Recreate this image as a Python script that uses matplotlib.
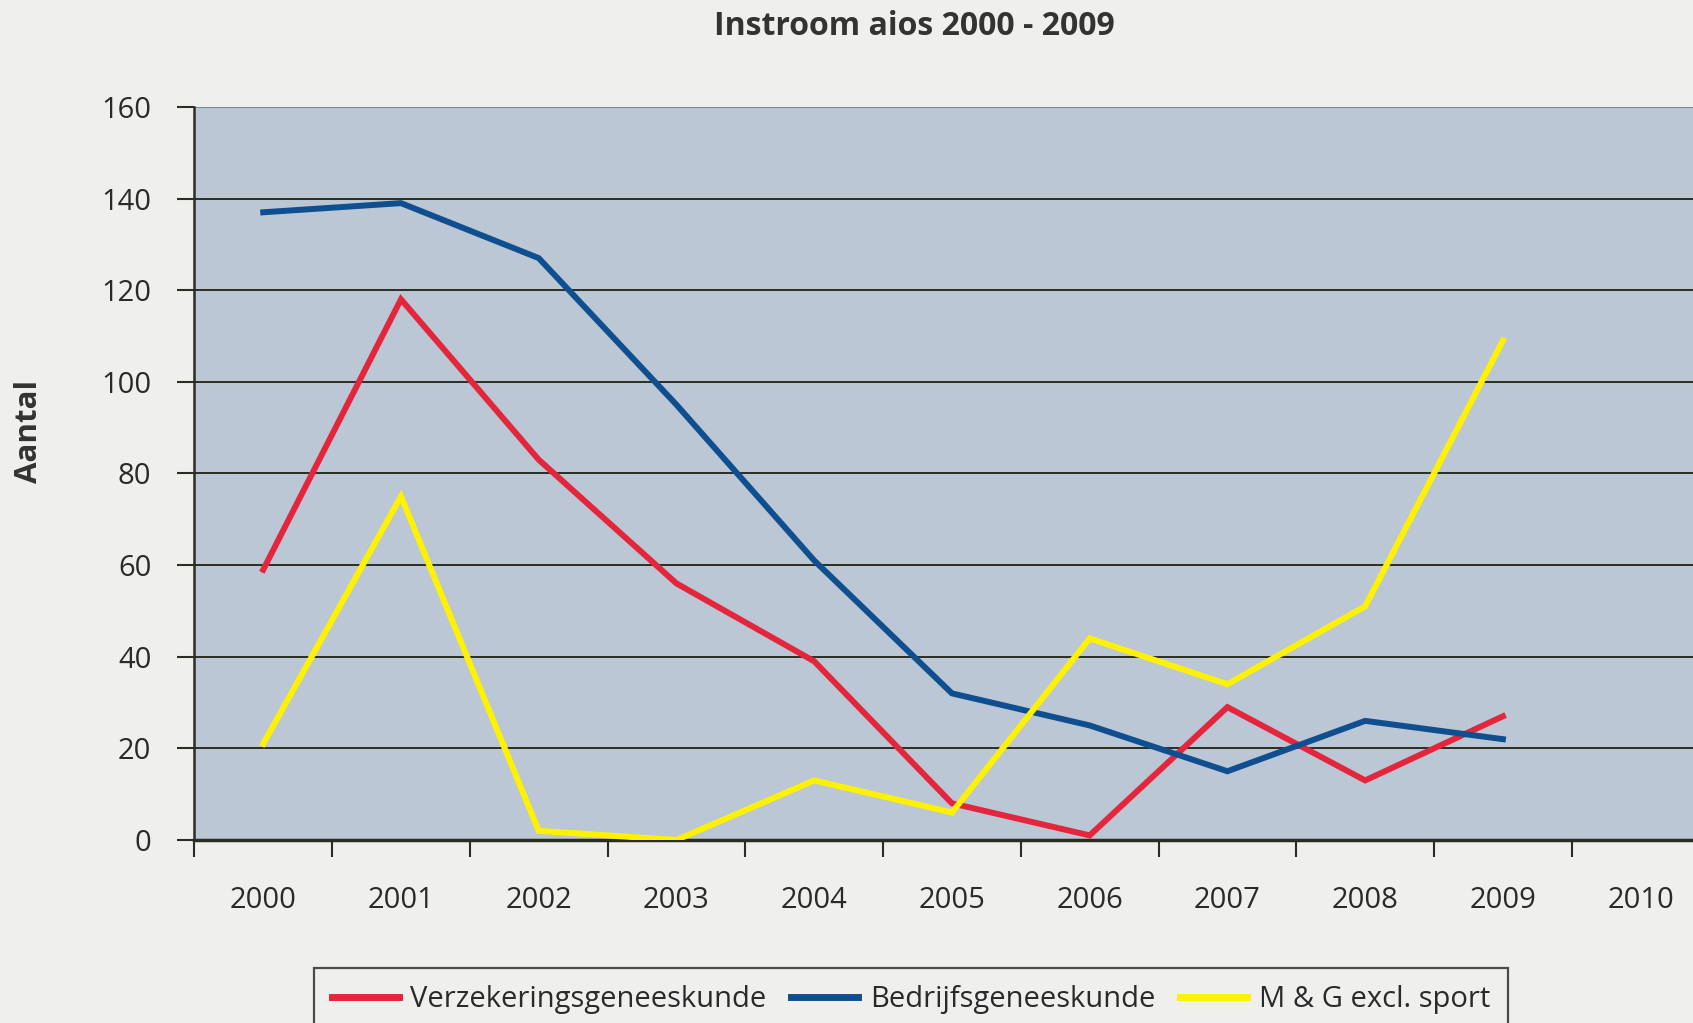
import numpy as np
import matplotlib
matplotlib.use('Agg')
import matplotlib.pyplot as plt
from matplotlib.ticker import FixedLocator

# data
years = ['2000', '2001', '2002', '2003', '2004', '2005', '2006', '2007', '2008', '2009', '2010']
verzekering = [59, 118, 83, 56, 39, 8, 1, 29, 13, 27]
bedrijf = [137, 139, 127, 95, 61, 32, 25, 15, 26, 22]
mg_excl_sport = [21, 75, 2, 0, 13, 6, 44, 34, 51, 109]
y_ticks = [0, 20, 40, 60, 80, 100, 120, 140, 160]

bg = '#efefee'
plot_bg = '#bcc7d5'
dark = '#2b2d22'
red = '#e3263c'
blue = '#0f4f8f'
yellow = '#fff200'

plt.rcParams['font.family'] = ['Open Sans', 'DejaVu Sans']

fig = plt.figure(figsize=(16.93, 10.23), dpi=100, facecolor=bg)
ax = fig.add_axes([0.1148, 0.1789, 0.8852, 0.7166])
ax.set_facecolor(plot_bg)

x = np.arange(len(verzekering))
ax.plot(x, verzekering, color=red, lw=4.3, solid_joinstyle='miter', zorder=3)
ax.plot(x, bedrijf, color=blue, lw=4.3, solid_joinstyle='miter', zorder=3)
ax.plot(x, mg_excl_sport, color=yellow, lw=4.3, solid_joinstyle='miter', zorder=3)

ax.set_xlim(-0.5, 10.38)
ax.set_ylim(0, 160)

# horizontal grid
for v in y_ticks[1:-1]:
    ax.axhline(v, color=dark, lw=1.4, zorder=1)
ax.axhline(160, color='#7d8590', lw=1.5, zorder=1)

for s in ['top', 'right']:
    ax.spines[s].set_visible(False)
ax.spines['left'].set_color(dark)
ax.spines['left'].set_linewidth(1.8)
ax.spines['bottom'].set_color(dark)
ax.spines['bottom'].set_linewidth(2.5)

ax.set_yticks(y_ticks)
ax.set_yticklabels([str(v) for v in y_ticks])
ax.tick_params(axis='y', length=12, width=1.5, color=dark, pad=19,
               labelsize=21, labelcolor='#2a2a2a')

# category boundaries as ticks, labels at centers
ax.xaxis.set_major_locator(FixedLocator(np.arange(-0.5, 10.6, 1.0)))
ax.xaxis.set_minor_locator(FixedLocator(np.arange(len(years))))
ax.set_xticklabels([], minor=False)
ax.set_xticklabels(years, minor=True)
ax.tick_params(axis='x', which='major', length=12, width=1.5, color=dark)
ax.tick_params(axis='x', which='minor', length=0, pad=33, labelsize=21,
               labelcolor='#2a2a2a')

fig.text(0.54, 0.974, 'Instroom aios 2000 - 2009', ha='center', va='center',
         fontsize=23, fontweight='bold', color='#333330')
fig.text(0.017, 0.578, 'Aantal', ha='center', va='center', rotation=90,
         fontsize=22.5, fontweight='bold', color='#333330')

handles = [plt.Line2D([], [], color=red, lw=5),
           plt.Line2D([], [], color=blue, lw=5),
           plt.Line2D([], [], color=yellow, lw=5)]
labels = ['Verzekeringsgeneeskunde', 'Bedrijfsgeneeskunde', 'M & G excl. sport']
leg = fig.legend(handles, labels, loc='upper left', ncol=3,
                 bbox_to_anchor=(0.1855, 0.0538), borderaxespad=0,
                 frameon=True, fancybox=False, handlelength=2.3,
                 handletextpad=0.4, borderpad=0.6, columnspacing=0.85,
                 prop={'size': 21})
leg.get_frame().set_edgecolor('#222222')
leg.get_frame().set_linewidth(1.6)
leg.get_frame().set_facecolor(bg)
for t in leg.get_texts():
    t.set_color('#2a2a2a')

fig.savefig('out.png', dpi=100, facecolor=bg)
